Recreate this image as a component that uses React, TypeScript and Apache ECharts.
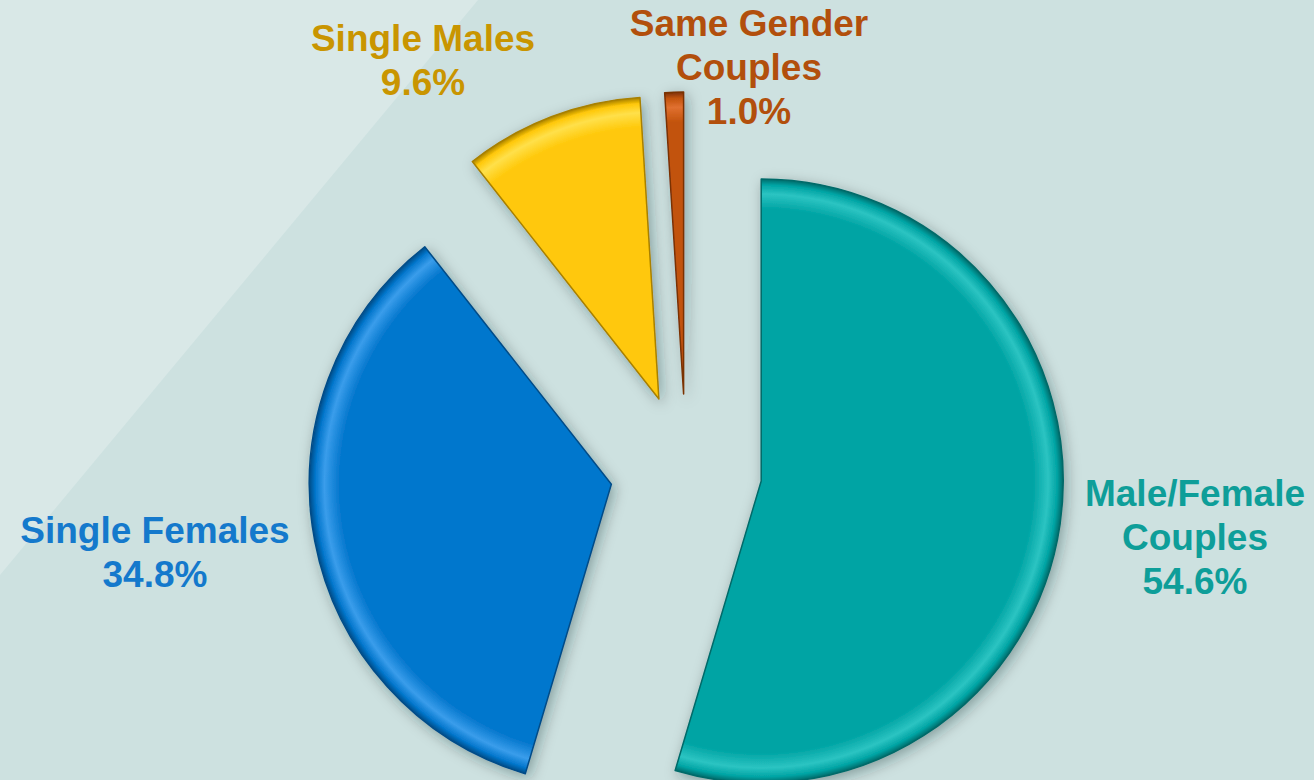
import React, { useEffect, useRef } from "react";
import * as echarts from "echarts";

const categories = ["Male/Female Couples", "Single Females", "Single Males", "Same Gender Couples"];
const labelLines = ["Male/Female\nCouples", "Single Females", "Single Males", "Same Gender\nCouples"];
const values = [54.6, 34.8, 9.6, 1.0];
const sliceColors = ["#00A4A4", "#0477CD", "#FFC808", "#C2530C"];
const lightColors = ["#2CC4C2", "#3A9DEB", "#FFE04A", "#E07030"];
const edgeColors = ["#006A69", "#034C88", "#A88000", "#7A3006"];
const labelColors = ["#0E9E99", "#1479CC", "#C99500", "#B24F0C"];
const labelSpots: [number, number][] = [
  [1195, 537],
  [155, 552],
  [423, 60],
  [749, 67],
];

const CX = 686;
const CY = 470;
const R = 302;
const OFFSET = 76;

export default function App() {
  const ref = useRef<HTMLDivElement>(null);
  useEffect(() => {
    document.body.style.margin = "0";
    if (!ref.current) return;
    const chart = echarts.init(ref.current, null, { renderer: "svg" });
    chart.setOption({
      animation: false,
      backgroundColor: "#CDE1E0",
      graphic: [
        {
          type: "polygon",
          silent: true,
          z: -10,
          shape: { points: [[0, 0], [478, 0], [0, 575]] },
          style: { fill: "#D9E8E7" },
        },
        ...values.map((v, i) => ({
          type: "text",
          silent: true,
          z: 10,
          x: labelSpots[i][0],
          y: labelSpots[i][1],
          style: {
            text: labelLines[i] + "\n" + v.toFixed(1) + "%",
            fill: labelColors[i],
            font: "bold 37px 'Liberation Sans', Arial, sans-serif",
            lineHeight: 44,
            align: "center",
            verticalAlign: "middle",
          },
        })),
      ],
      series: [
        {
          type: "pie",
          center: [CX, CY],
          radius: R,
          startAngle: 90,
          clockwise: true,
          selectedMode: "multiple",
          selectedOffset: OFFSET,
          avoidLabelOverlap: false,
          emphasis: { disabled: true },
          labelLine: { show: false },
          label: { show: false },
          data: categories.map((name, i) => ({
            name,
            value: values[i],
            selected: true,
            itemStyle: {
              color: {
                type: "radial",
                x: CX,
                y: CY,
                r: R,
                global: true,
                colorStops: [
                  { offset: 0, color: sliceColors[i] },
                  { offset: 0.9, color: sliceColors[i] },
                  { offset: 0.95, color: lightColors[i] },
                  { offset: 0.98, color: sliceColors[i] },
                  { offset: 1, color: edgeColors[i] },
                ],
              },
              borderColor: edgeColors[i],
              borderWidth: 1.5,
              shadowBlur: 14,
              shadowColor: "rgba(0,40,40,0.35)",
              shadowOffsetX: 3,
              shadowOffsetY: 4,
            },
          })),
        },
      ],
    });
    return () => chart.dispose();
  }, []);
  return <div ref={ref} style={{ width: 1314, height: 780 }} />;
}
